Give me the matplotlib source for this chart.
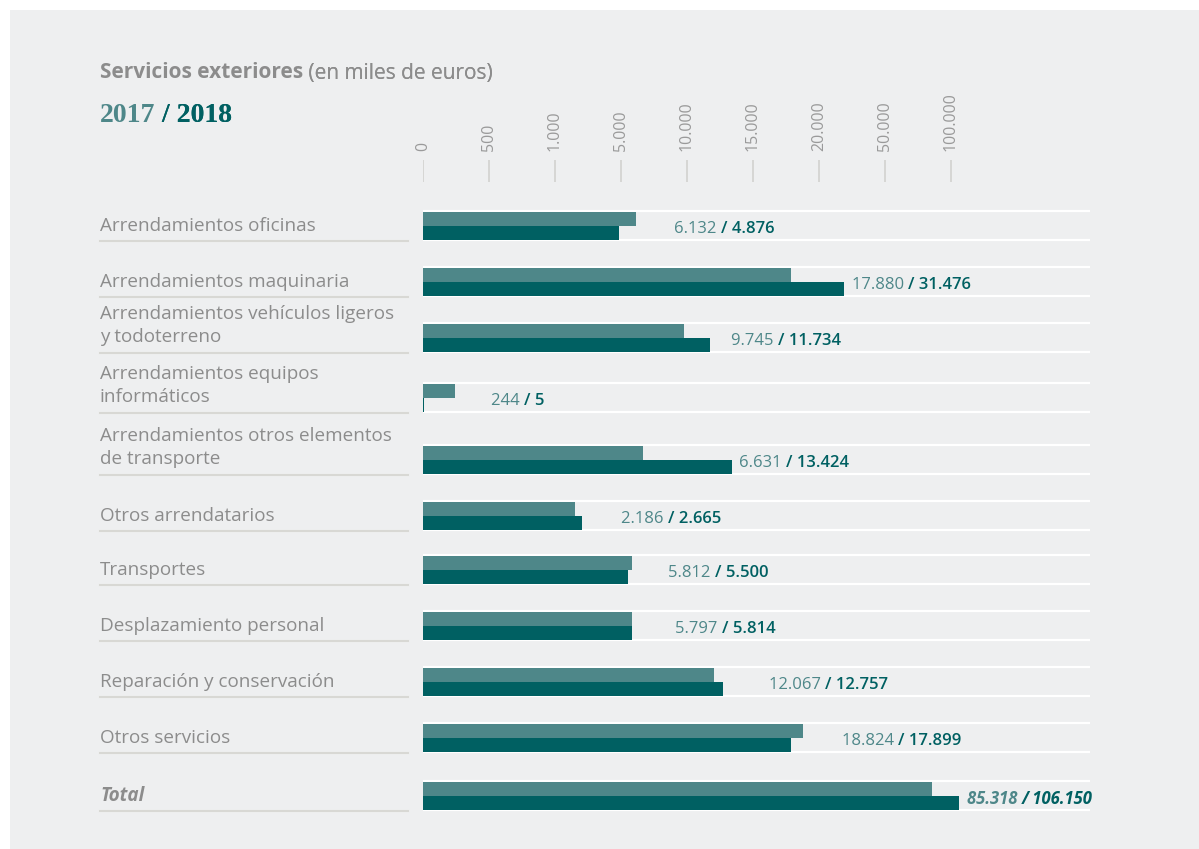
import matplotlib.pyplot as plt
import numpy as np

W, H = 1199, 849

# data (miles de euros)
categories = ["Arrendamientos oficinas", "Arrendamientos maquinaria",
              "Arrendamientos vehículos ligeros\ny todoterreno",
              "Arrendamientos equipos\ninformáticos",
              "Arrendamientos otros elementos\nde transporte",
              "Otros arrendatarios", "Transportes", "Desplazamiento personal",
              "Reparación y conservación", "Otros servicios", "Total"]
v2017 = [6132, 17880, 9745, 244, 6631, 2186, 5812, 5797, 12067, 18824, 85318]
v2018 = [4876, 31476, 11734, 5, 13424, 2665, 5500, 5814, 12757, 17899, 106150]
tick_vals = [0, 500, 1000, 5000, 10000, 15000, 20000, 50000, 100000]
tick_labels = ["0", "500", "1.000", "5.000", "10.000", "15.000", "20.000", "50.000", "100.000"]

# layout (pixels)
row_top = [212, 268, 324, 384, 446, 502, 556, 612, 668, 724, 782]
label_dx = [251, 429, 308, 68, 316, 198, 245, 252, 346, 419, 544]
bar_h = 14
x0_px, x1_px, step_px = 423, 1090, 66

c17 = "#4e8789"
c18 = "#006062"
grey = "#8c8c8c"
bg = "#eeeff0"

plt.rcParams['font.family'] = ['Open Sans', 'DejaVu Sans']

# piecewise linear scale between the ticks (equal spacing per tick, linear beyond the last)
sc_vals = np.array(tick_vals + [150000, 200000, 250000, 300000], dtype=float)
sc_idx = np.arange(len(sc_vals), dtype=float)


def fwd(v):
    return np.interp(v, sc_vals, sc_idx)


def inv(i):
    return np.interp(i, sc_idx, sc_vals)


def fmt(v):
    return f"{v:,}".replace(",", ".")


fig = plt.figure(figsize=(W / 100, H / 100), dpi=100)
fig.patch.set_facecolor("white")
fig.patches.append(plt.Rectangle((10 / W, 0), 1, 1 - 10 / H, transform=fig.transFigure,
                                 facecolor=bg, edgecolor="none", zorder=-5))

ax = fig.add_axes([x0_px / W, 0, (x1_px - x0_px) / W, 1])
ax.set_facecolor("none")
ax.set_xscale("function", functions=(fwd, inv))
ax.set_xlim(0, inv((x1_px - x0_px) / step_px))
ax.set_ylim(H, 0)
ax.axis("off")

# ticks
for v, lab in zip(tick_vals, tick_labels):
    ax.vlines(v, 160, 182, color="#d2d2cf", lw=1.2)
    ax.text(v, 151, lab, rotation=90, ha="center", va="bottom", fontsize=11.5,
            color="#9a9a9a")

xmax = ax.get_xlim()[1]
for i, (cat, a, b) in enumerate(zip(categories, v2017, v2018)):
    top = row_top[i]
    bot = top + 2 * bar_h
    ax.hlines([top - 1, bot], 0, xmax, color="white", lw=1.6, zorder=1)
    ax.barh(top + bar_h / 2, a, height=bar_h, left=0, color=c17, zorder=2)
    ax.barh(top + 3 * bar_h / 2, max(b, 1), height=bar_h, left=0, color=c18, zorder=2)

    is_total = cat == "Total"
    style = "italic" if is_total else "normal"
    t1 = ax.annotate(fmt(a) + " ", xy=(0, top + bar_h + 3), xytext=(label_dx[i] * 0.72, 0),
                     textcoords="offset points", ha="left", va="center", fontsize=12,
                     color=c17, fontstyle=style, fontweight="bold" if is_total else "normal")
    ax.annotate("/ " + fmt(b), xy=(1, 0), xycoords=t1, ha="left", va="bottom",
                fontsize=12, color=c18, fontstyle=style,
                fontweight="bold" if is_total else "semibold")

    # category label + underline
    nlines = cat.count("\n") + 1
    yc = top + bar_h - (nlines - 1) * 25 / 2
    fig.text(100 / W, 1 - yc / H, cat, ha="left", va="center", fontsize=13.6,
             color=grey, linespacing=1.38, fontstyle=style,
             fontweight="bold" if is_total else "normal")
    fig.add_artist(plt.Line2D([100 / W, 408 / W], [1 - (bot + 1) / H] * 2,
                              color="#d8d8d4", lw=1.5))

# titles
t = fig.text(100 / W, 1 - 73 / H, "Servicios exteriores", ha="left", va="center",
             fontsize=15, fontweight="bold", color=grey)
ann = plt.annotate(" (en miles de euros)", xy=(1, 0), xycoords=t, ha="left", va="bottom",
                   fontsize=15, color=grey, annotation_clip=False)
fig.add_artist(ann)
y1 = fig.text(100 / W, 1 - 115 / H, "2017", ha="left", va="center", fontsize=20,
              fontweight="bold", color=c17, family="Liberation Serif")
y2 = plt.annotate(" / 2018", xy=(1, 0), xycoords=y1, ha="left", va="bottom", fontsize=20,
                  fontweight="bold", color=c18, family="Liberation Serif", annotation_clip=False)
fig.add_artist(y2)

fig.savefig("out.png", dpi=100, facecolor=fig.get_facecolor())
